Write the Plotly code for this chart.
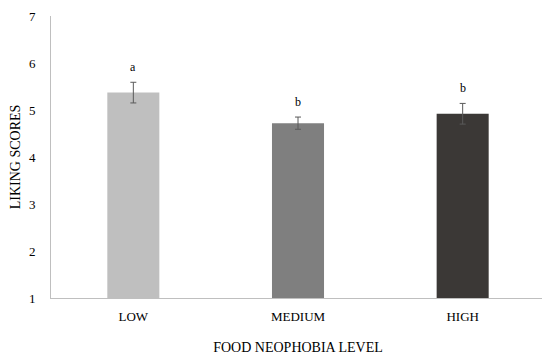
import plotly.graph_objects as go

categories = ["LOW", "MEDIUM", "HIGH"]
scores = [5.37, 4.72, 4.92]
errors = [0.22, 0.13, 0.22]
letters = ["a", "b", "b"]
colors = ["#BFBFBF", "#7F7F7F", "#3B3836"]

font_family = "Liberation Serif, DejaVu Serif, serif"

fig = go.Figure()
fig.add_trace(go.Bar(
    x=categories, y=[s - 1 for s in scores], base=1,
    marker=dict(color=colors, line=dict(width=0)),
    width=0.316,
    error_y=dict(type="data", array=errors, color="#5A5A5A", thickness=1, width=3),
    hoverinfo="skip",
))

for c, s, e, l in zip(categories, scores, errors, letters):
    fig.add_annotation(x=c, y=s + e, text=l, showarrow=False, yshift=15,
                       font=dict(family=font_family, size=12, color="#000000"))

fig.update_layout(
    width=542, height=349,
    margin=dict(l=43, r=5, t=8, b=59),
    paper_bgcolor="white", plot_bgcolor="white",
    showlegend=False,
    font=dict(family=font_family, size=13, color="#000000"),
    bargap=0.684,
)
fig.update_xaxes(
    showline=True, linecolor="#BFBFBF", linewidth=1,
    ticks="", showgrid=False, automargin=False,
    title=dict(text="FOOD NEOPHOBIA LEVEL", standoff=19, font=dict(size=14)),
    tickfont=dict(size=13), ticklabelstandoff=6,
)
fig.update_yaxes(
    range=[1, 7], dtick=1, showline=True, linecolor="#BFBFBF", linewidth=1,
    ticks="", showgrid=False, zeroline=False, automargin=False,
    title=dict(text="LIKING SCORES", standoff=13, font=dict(size=14)),
    tickfont=dict(size=13), ticklabelstandoff=12,
)

fig.write_html("out.html")
